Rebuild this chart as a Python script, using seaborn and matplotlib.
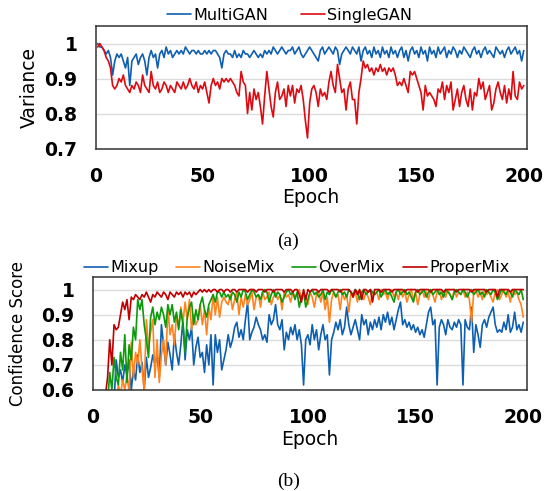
import numpy as np
import pandas as pd
import seaborn as sns
import matplotlib
import matplotlib.pyplot as plt

matplotlib.use("Agg")

# ── Données ──────────────────────────────────────────────────────────────
epochs = np.arange(1, 201)

multigan = [
    1.00, 0.99, 0.99, 0.98, 0.97, 0.98, 0.96, 0.91, 0.95, 0.97, 0.96, 0.97, 0.95, 0.93, 0.96, 0.88, 0.95, 0.96, 0.97, 0.94,
    0.96, 0.97, 0.95, 0.91, 0.96, 0.98, 0.96, 0.97, 0.93, 0.97, 0.98, 0.96, 0.99, 0.97, 0.98, 0.96, 0.97, 0.98, 0.97, 0.98,
    0.97, 0.99, 0.98, 0.97, 0.98, 0.98, 0.97, 0.98, 0.97, 0.97, 0.98, 0.97, 0.98, 0.97, 0.98, 0.98, 0.97, 0.96, 0.93, 0.97,
    0.98, 0.97, 0.97, 0.96, 0.98, 0.96, 0.97, 0.96, 0.98, 0.97, 0.97, 0.96, 0.97, 0.98, 0.97, 0.96, 0.97, 0.96, 0.98, 0.97,
    0.98, 0.97, 0.99, 0.98, 0.97, 0.98, 0.99, 0.98, 0.97, 0.98, 0.98, 0.99, 0.97, 0.98, 0.99, 0.97, 0.96, 0.97, 0.98, 0.99,
    0.98, 0.97, 0.96, 0.95, 0.98, 0.99, 0.97, 0.98, 0.99, 0.98, 0.97, 0.99, 0.98, 0.94, 0.97, 0.98, 0.99, 0.98, 0.97, 0.99,
    0.98, 0.97, 0.99, 0.95, 0.98, 0.99, 0.97, 0.98, 0.96, 0.99, 0.97, 0.98, 0.96, 0.99, 0.97, 0.98, 0.96, 0.99, 0.97, 0.98,
    0.96, 0.98, 0.99, 0.96, 0.98, 0.95, 0.98, 0.99, 0.97, 0.98, 0.96, 0.99, 0.97, 0.98, 0.95, 0.99, 0.97, 0.98, 0.96, 0.99,
    0.97, 0.98, 0.99, 0.96, 0.98, 0.97, 0.99, 0.98, 0.96, 0.98, 0.97, 0.99, 0.98, 0.97, 0.96, 0.98, 0.99, 0.97, 0.98, 0.96,
    0.98, 0.99, 0.97, 0.98, 0.97, 0.96, 0.99, 0.98, 0.97, 0.98, 0.96, 0.98, 0.99, 0.97, 0.98, 0.99, 0.97, 0.98, 0.95, 0.98,
]

singlegan = [
    0.99, 1.00, 0.99, 0.98, 0.96, 0.95, 0.93, 0.88, 0.87, 0.88, 0.90, 0.89, 0.91, 0.88, 0.87, 0.86, 0.88, 0.87, 0.89, 0.88,
    0.86, 0.91, 0.88, 0.87, 0.86, 0.92, 0.88, 0.87, 0.89, 0.86, 0.87, 0.89, 0.88, 0.86, 0.88, 0.87, 0.86, 0.89, 0.88, 0.87,
    0.89, 0.87, 0.88, 0.90, 0.88, 0.87, 0.89, 0.86, 0.88, 0.87, 0.89, 0.86, 0.83, 0.88, 0.90, 0.88, 0.89, 0.87, 0.90, 0.89,
    0.90, 0.89, 0.90, 0.89, 0.88, 0.86, 0.85, 0.92, 0.89, 0.88, 0.80, 0.86, 0.81, 0.87, 0.84, 0.86, 0.82, 0.77, 0.85, 0.92,
    0.87, 0.82, 0.79, 0.86, 0.89, 0.84, 0.85, 0.87, 0.82, 0.88, 0.85, 0.88, 0.83, 0.87, 0.86, 0.88, 0.84, 0.78, 0.73, 0.83,
    0.87, 0.88, 0.86, 0.82, 0.87, 0.85, 0.86, 0.84, 0.89, 0.92, 0.88, 0.86, 0.94, 0.90, 0.86, 0.87, 0.81, 0.87, 0.89, 0.84,
    0.84, 0.77, 0.86, 0.90, 0.95, 0.93, 0.94, 0.92, 0.93, 0.91, 0.93, 0.92, 0.94, 0.92, 0.93, 0.91, 0.93, 0.92, 0.93, 0.91,
    0.88, 0.89, 0.88, 0.90, 0.88, 0.86, 0.92, 0.91, 0.92, 0.90, 0.88, 0.86, 0.81, 0.88, 0.85, 0.86, 0.85, 0.84, 0.82, 0.87,
    0.86, 0.89, 0.84, 0.88, 0.86, 0.89, 0.81, 0.84, 0.87, 0.82, 0.86, 0.88, 0.84, 0.82, 0.87, 0.81, 0.86, 0.85, 0.90, 0.87,
    0.89, 0.84, 0.86, 0.88, 0.81, 0.83, 0.87, 0.89, 0.86, 0.84, 0.88, 0.83, 0.87, 0.84, 0.92, 0.85, 0.84, 0.89, 0.87, 0.88,
]

mixup = [
    0.10, 0.12, 0.15, 0.18, 0.20, 0.25, 0.30, 0.35, 0.42, 0.55, 0.72, 0.65, 0.68, 0.63, 0.70, 0.66, 0.72, 0.60, 0.68, 0.64,
    0.74, 0.67, 0.71, 0.60, 0.73, 0.65, 0.69, 0.74, 0.70, 0.74, 0.65, 0.86, 0.78, 0.70, 0.79, 0.74, 0.68, 0.82, 0.75, 0.70,
    0.78, 0.88, 0.72, 0.84, 0.80, 0.85, 0.70, 0.77, 0.81, 0.73, 0.75, 0.67, 0.78, 0.70, 0.82, 0.62, 0.82, 0.75, 0.80, 0.68,
    0.72, 0.76, 0.82, 0.77, 0.80, 0.85, 0.87, 0.81, 0.84, 0.80, 0.88, 0.95, 0.80, 0.83, 0.85, 0.89, 0.86, 0.84, 0.80, 0.82,
    0.79, 0.90, 0.86, 0.88, 0.94, 0.86, 0.84, 0.88, 0.76, 0.83, 0.80, 0.85, 0.82, 0.86, 0.80, 0.84, 0.78, 0.62, 0.80, 0.82,
    0.78, 0.86, 0.80, 0.84, 0.76, 0.82, 0.86, 0.80, 0.82, 0.66, 0.80, 0.83, 0.87, 0.84, 0.88, 0.82, 0.85, 0.93, 0.86, 0.82,
    0.85, 0.88, 0.84, 0.80, 0.90, 0.86, 0.88, 0.82, 0.87, 0.84, 0.88, 0.85, 0.89, 0.84, 0.90, 0.87, 0.91, 0.86, 0.89, 0.84,
    0.88, 0.92, 0.95, 0.86, 0.88, 0.85, 0.87, 0.84, 0.86, 0.83, 0.85, 0.82, 0.84, 0.81, 0.86, 0.91, 0.93, 0.86, 0.88, 0.62,
    0.85, 0.88, 0.86, 0.82, 0.88, 0.85, 0.84, 0.87, 0.85, 0.88, 0.86, 0.62, 0.88, 0.85, 0.84, 0.93, 0.75, 0.86, 0.82, 0.77,
    0.86, 0.88, 0.85, 0.89, 0.91, 0.93, 0.86, 0.83, 0.84, 0.83, 0.87, 0.84, 0.90, 0.83, 0.85, 0.91, 0.84, 0.86, 0.83, 0.87,
]

noisemix = [
    0.10, 0.12, 0.15, 0.20, 0.25, 0.30, 0.35, 0.40, 0.45, 0.50, 0.55, 0.62, 0.58, 0.64, 0.60, 0.66, 0.59, 0.79, 0.65, 0.75,
    0.70, 0.80, 0.68, 0.60, 0.88, 0.77, 0.83, 0.88, 0.65, 0.80, 0.63, 0.74, 0.80, 0.70, 0.93, 0.82, 0.86, 0.78, 0.90, 0.85,
    0.93, 0.87, 0.95, 0.88, 0.96, 0.84, 0.90, 0.86, 0.88, 0.94, 0.86, 0.92, 0.82, 0.93, 0.88, 0.98, 0.90, 0.97, 0.89, 0.95,
    0.97, 0.95, 0.94, 0.98, 0.92, 0.96, 0.99, 0.90, 0.97, 0.93, 0.98, 0.94, 0.96, 0.99, 0.92, 0.97, 0.98, 0.93, 0.99, 0.96,
    0.97, 0.99, 0.94, 0.97, 0.99, 0.96, 0.98, 0.92, 0.99, 0.97, 0.98, 0.95, 0.99, 0.97, 0.98, 1.00, 0.96, 0.99, 0.97, 0.94,
    0.99, 0.97, 0.93, 0.98, 0.99, 0.95, 0.99, 0.92, 0.97, 0.87, 0.96, 0.99, 0.97, 0.98, 0.92, 0.99, 0.96, 0.98, 0.91, 0.99,
    0.97, 0.99, 0.95, 1.00, 0.98, 0.96, 0.99, 0.97, 0.94, 0.99, 0.98, 0.99, 0.96, 1.00, 0.98, 0.99, 0.96, 0.99, 1.00, 0.97,
    0.99, 0.96, 1.00, 0.97, 0.99, 0.95, 0.98, 1.00, 0.96, 0.99, 0.94, 0.98, 1.00, 0.97, 0.99, 0.96, 1.00, 0.98, 0.95, 0.99,
    1.00, 0.96, 0.99, 0.97, 1.00, 0.98, 0.96, 1.00, 0.97, 0.99, 0.98, 1.00, 0.97, 0.99, 0.96, 0.87, 0.99, 1.00, 0.97, 0.99,
    0.96, 1.00, 0.98, 0.99, 0.97, 0.95, 0.99, 1.00, 0.96, 0.98, 1.00, 0.97, 0.99, 0.95, 1.00, 0.98, 0.99, 0.96, 0.94, 0.89,
]

overmix = [
    0.10, 0.15, 0.20, 0.25, 0.30, 0.40, 0.55, 0.67, 0.60, 0.73, 0.65, 0.62, 0.75, 0.68, 0.82, 0.63, 0.78, 0.72, 0.85, 0.80,
    0.96, 0.92, 0.96, 0.86, 0.80, 0.73, 0.89, 0.93, 0.86, 0.91, 0.88, 0.93, 0.90, 0.85, 0.94, 0.90, 0.94, 0.87, 0.91, 0.84,
    0.92, 0.86, 0.75, 0.89, 0.93, 0.95, 0.86, 0.92, 0.88, 0.94, 0.97, 0.92, 0.89, 0.94, 0.96, 0.98, 0.95, 0.99, 0.99, 0.97,
    0.99, 0.97, 0.98, 0.96, 0.99, 0.98, 0.95, 0.99, 0.97, 1.00, 0.99, 0.96, 0.98, 1.00, 0.99, 0.97, 0.98, 0.96, 0.99, 1.00,
    0.99, 0.95, 0.98, 1.00, 0.97, 0.99, 0.98, 0.95, 0.97, 0.99, 1.00, 0.98, 0.99, 0.96, 0.99, 0.93, 0.97, 0.99, 0.93, 0.96,
    0.99, 1.00, 0.98, 0.99, 0.97, 0.98, 1.00, 0.96, 0.99, 0.98, 1.00, 0.99, 0.97, 0.99, 1.00, 0.98, 0.99, 0.97, 1.00, 0.99,
    0.98, 1.00, 0.99, 0.96, 0.99, 1.00, 0.98, 0.99, 1.00, 0.99, 0.98, 0.99, 1.00, 0.97, 0.99, 1.00, 0.98, 0.99, 0.97, 0.95,
    0.99, 1.00, 0.98, 0.99, 1.00, 0.98, 0.99, 0.97, 0.95, 0.99, 1.00, 0.98, 0.99, 1.00, 0.97, 0.99, 1.00, 0.98, 0.99, 1.00,
    0.98, 0.99, 0.97, 1.00, 0.99, 0.98, 0.96, 0.99, 1.00, 0.99, 0.98, 1.00, 0.99, 0.97, 0.99, 1.00, 0.98, 0.99, 1.00, 0.98,
    0.99, 0.97, 1.00, 0.99, 0.98, 1.00, 0.99, 0.96, 0.98, 1.00, 0.99, 0.98, 1.00, 0.99, 0.97, 1.00, 0.99, 0.98, 1.00, 0.96,
]

propermix = [
    0.20, 0.25, 0.30, 0.40, 0.52, 0.58, 0.65, 0.80, 0.70, 0.86, 0.84, 0.85, 0.90, 0.95, 0.92, 0.96, 0.88, 0.97, 0.96, 0.98,
    0.97, 0.96, 0.98, 0.97, 0.99, 0.97, 0.95, 0.98, 0.97, 0.99, 0.98, 0.97, 0.99, 0.98, 0.96, 0.99, 0.98, 0.97, 0.99, 0.98,
    0.99, 0.97, 0.99, 0.98, 0.99, 0.97, 0.99, 0.98, 0.99, 1.00, 0.99, 1.00, 0.99, 1.00, 0.99, 1.00, 1.00, 0.99, 1.00, 1.00,
    0.99, 1.00, 1.00, 0.99, 1.00, 1.00, 0.99, 1.00, 1.00, 1.00, 1.00, 0.99, 1.00, 1.00, 1.00, 0.99, 1.00, 1.00, 1.00, 0.99,
    1.00, 1.00, 1.00, 0.99, 1.00, 1.00, 1.00, 1.00, 0.99, 1.00, 1.00, 1.00, 0.99, 1.00, 1.00, 0.98, 0.95, 1.00, 0.96, 1.00,
    0.99, 1.00, 1.00, 1.00, 0.99, 1.00, 1.00, 1.00, 1.00, 0.99, 1.00, 1.00, 1.00, 1.00, 0.99, 1.00, 1.00, 1.00, 1.00, 0.99,
    0.97, 1.00, 0.98, 1.00, 0.96, 1.00, 1.00, 0.99, 1.00, 0.95, 1.00, 1.00, 1.00, 0.99, 1.00, 1.00, 1.00, 1.00, 0.99, 1.00,
    1.00, 1.00, 1.00, 1.00, 0.99, 1.00, 1.00, 1.00, 1.00, 1.00, 0.99, 1.00, 1.00, 1.00, 1.00, 1.00, 0.99, 1.00, 1.00, 1.00,
    1.00, 1.00, 0.99, 1.00, 1.00, 1.00, 1.00, 1.00, 0.99, 1.00, 1.00, 1.00, 1.00, 1.00, 1.00, 0.99, 1.00, 1.00, 1.00, 1.00,
    1.00, 1.00, 0.99, 1.00, 1.00, 1.00, 1.00, 0.97, 1.00, 1.00, 1.00, 1.00, 1.00, 0.99, 1.00, 1.00, 1.00, 1.00, 1.00, 1.00,
]

top_names = ["MultiGAN", "SingleGAN"]
top_colors = ["#0f5fb0", "#dd0a12"]
bot_names = ["Mixup", "NoiseMix", "OverMix", "ProperMix"]
bot_colors = ["#0f5fb0", "#ff8420", "#0a9a0a", "#c00000"]

# ── Style ────────────────────────────────────────────────────────────────
sns.set_style("whitegrid", {"text.color": "black", "axes.labelcolor": "black",
                            "xtick.color": "black", "ytick.color": "black"})
plt.rcParams["font.family"] = ["DejaVu Sans"]

fig = plt.figure(figsize=(5.52, 4.91), dpi=100)
ax1 = fig.add_axes([95.5 / 552, 1 - 148.5 / 491, 431.5 / 552, 122.5 / 491])
ax2 = fig.add_axes([92.5 / 552, 1 - 390 / 491, 434 / 552, 113 / 491])


def style_axes(ax, ylim, yticks, ylab, ylab_size):
    ax.set_xlim(0, 201.5)
    ax.set_ylim(*ylim)
    ax.set_xticks([0, 50, 100, 150, 200])
    ax.set_yticks(yticks)
    ax.set_yticklabels([f"{t:g}" for t in yticks])
    ax.grid(axis="x", visible=False)
    ax.grid(axis="y", color="#dcdcdc", linewidth=1.0)
    for s in ax.spines.values():
        s.set_color("#333333")
        s.set_linewidth(1.1)
    ax.tick_params(length=0, pad=13, labelsize=13.5, colors="black")
    for lbl in ax.get_xticklabels() + ax.get_yticklabels():
        lbl.set_fontweight("bold")
    ax.set_xlabel("Epoch", fontsize=13.5, labelpad=2, color="black")
    ax.set_ylabel(ylab, fontsize=ylab_size, color="black")


df_top = pd.DataFrame({"Epoch": np.tile(epochs, 2),
                       "val": multigan + singlegan,
                       "model": np.repeat(top_names, len(epochs))})
sns.lineplot(data=df_top, x="Epoch", y="val", hue="model", palette=top_colors,
             linewidth=1.2, ax=ax1, legend=False)
style_axes(ax1, (0.7, 1.05), [0.7, 0.8, 0.9, 1.0], "Variance", 13.5)
ax1.legend(handles=ax1.get_lines()[:2], labels=top_names, loc="lower center",
           bbox_to_anchor=(0.45, 1.015), ncol=2, frameon=False, fontsize=11.5,
           handlelength=1.5, handletextpad=0.15, columnspacing=2.0,
           borderaxespad=0, borderpad=0.1)

df_bot = pd.DataFrame({"Epoch": np.tile(epochs, 4),
                       "val": mixup + noisemix + overmix + propermix,
                       "model": np.repeat(bot_names, len(epochs))})
sns.lineplot(data=df_bot, x="Epoch", y="val", hue="model", palette=bot_colors,
             linewidth=1.2, ax=ax2, legend=False)
style_axes(ax2, (0.6, 1.05), [0.6, 0.7, 0.8, 0.9, 1.0], "Confidence Score", 12)
ax2.yaxis.set_label_coords(-0.15, 0.5)
ax2.legend(handles=ax2.get_lines()[:4], labels=bot_names, loc="lower center",
           bbox_to_anchor=(0.47, 1.0), ncol=4, frameon=False, fontsize=11.5,
           handlelength=1.5, handletextpad=0.15, columnspacing=1.1,
           borderaxespad=0, borderpad=0.1)

fig.text(0.522, 1 - 241 / 491, "(a)", ha="center", va="center",
         family="Liberation Serif", fontsize=14, color="black")
fig.text(0.522, 1 - 481 / 491, "(b)", ha="center", va="center",
         family="Liberation Serif", fontsize=14, color="black")

fig.savefig("out.png", dpi=100)
